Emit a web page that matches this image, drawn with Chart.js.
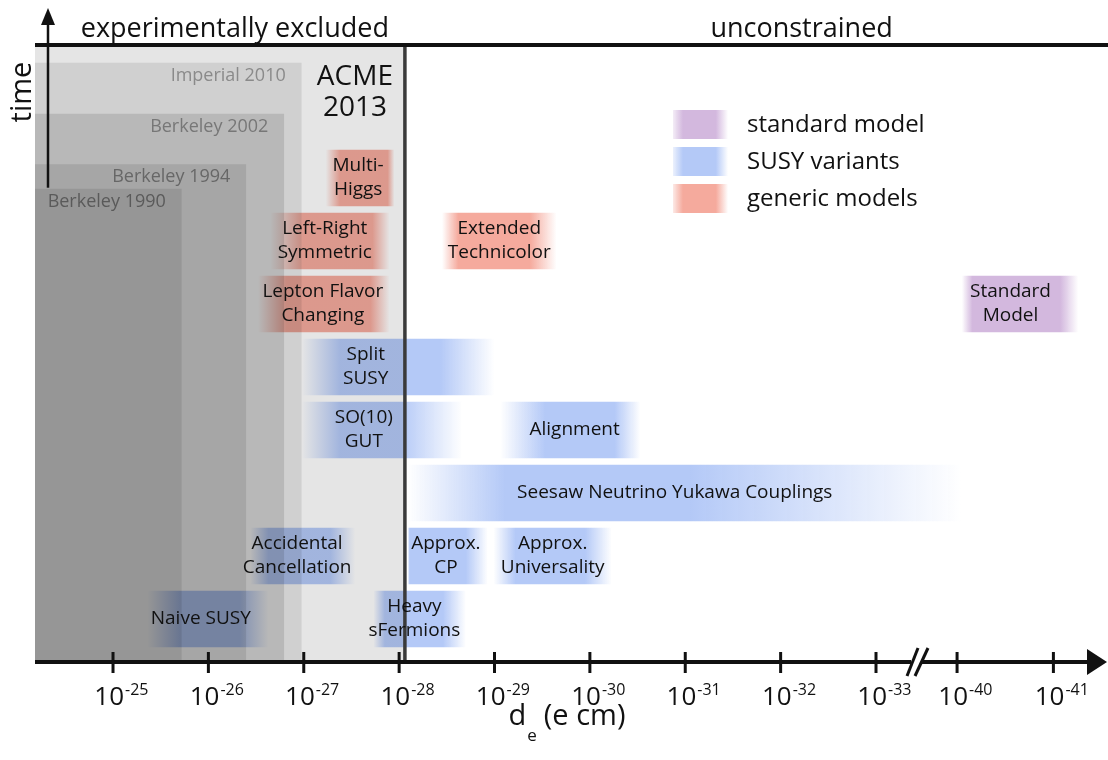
<!DOCTYPE html>
<html>
<head>
<meta charset="utf-8">
<script src="https://cdn.jsdelivr.net/npm/chart.js@4.4.0/dist/chart.umd.min.js"></script>
<style>
  html, body { margin: 0; padding: 0; background: #fff; }
  #wrap { width: 1108px; height: 760px; position: relative; }
</style>
</head>
<body>
<div id="wrap"><canvas id="chart"></canvas></div>
<script>
"use strict";

// ── Data ──────────────────────────────────────────────────────────────────────
// x = -log10(d_e / e cm), y = "time" rows (one row per model band)
const tickPos   = [25, 26, 27, 28, 29, 30, 31, 32, 33, 33.85, 34.86];
const tickExp   = ["-25", "-26", "-27", "-28", "-29", "-30", "-31", "-32", "-33", "-40", "-41"];
const axisBreak = 33.43;

const expNames  = ["Berkeley 1990", "Berkeley 1994", "Berkeley 2002", "Imperial 2010", "ACME\n2013"];
const expLimits = [1.9e-26, 4.0e-27, 1.6e-27, 1.05e-27, 8.7e-29];
const expTops   = [7.83, 8.22, 9.02, 9.83, 10.11];

const bandLabels = [
  "Multi-\nHiggs", "Left-Right\nSymmetric", "Lepton Flavor\nChanging", "Extended\nTechnicolor",
  "Standard\nModel",
  "Split\nSUSY", "SO(10)\nGUT", "Alignment", "Seesaw Neutrino Yukawa Couplings",
  "Accidental\nCancellation", "Approx.\nCP", "Approx.\nUniversality", "Naive SUSY", "Heavy\nsFermions",
];
const bandGroup = [
  "generic", "generic", "generic", "generic",
  "sm",
  "susy", "susy", "susy", "susy", "susy", "susy", "susy", "susy", "susy",
];
const bandRow  = [8, 7, 6, 7, 6, 5, 4, 4, 3, 2, 2, 2, 1, 1];
const bandFrom = [27.23, 26.65, 26.52, 28.45, 33.90, 26.98, 26.98, 29.06, 28.09, 26.44, 28.09, 28.99, 25.36, 27.73];
const bandFull = [27.38, 26.99, 26.82, 28.62, 34.01, 27.38, 27.38, 29.53, 29.11, 26.63, 28.11, 29.22, 25.70, 27.85];
const bandFade = [27.88, 27.72, 27.70, 29.37, 34.93, 28.43, 28.01, 30.26, 31.05, 27.28, 28.70, 29.95, 26.33, 28.46];
const bandTo   = [27.95, 27.90, 27.90, 29.65, 35.12, 29.00, 28.66, 30.53, 33.90, 27.54, 28.93, 30.23, 26.63, 28.70];
const bandText = [27.57, 27.22, 27.20, 29.05, 34.41, 27.65, 27.63, 29.84, 30.89, 26.93, 28.49, 29.61, 25.92, 28.16];

const groupOrder = ["sm", "susy", "generic"];
const groupNames = ["standard model", "SUSY variants", "generic models"];

// ── Styles ────────────────────────────────────────────────────────────────────
const FONT      = "'Open Sans', 'DejaVu Sans', sans-serif";
const INK       = "#111";
const expFill   = ["#969696", "#a6a6a6", "#b8b8b8", "#d0d0d0", "#e5e5e5"];
const expInk    = ["#5a5a5a", "#676767", "#777777", "#8a8a8a", "#111"];
const groupRGB  = { sm: [211, 184, 222], susy: [180, 201, 247], generic: [245, 170, 157] };

const X_MIN = 24.182, X_MAX = 35.4325;
const Y_MIN = 0.3175, Y_MAX = 10.111;

const rgba = (c, a) => `rgba(${c[0]},${c[1]},${c[2]},${a})`;

// ── Helpers ───────────────────────────────────────────────────────────────────
function bandFill(ctx, g) {
  const c = groupRGB[g];
  if (ctx.type !== "data" || !ctx.chart.chartArea) return rgba(c, 1);
  const i  = ctx.raw.band;
  const xs = ctx.chart.scales.x;
  const x0 = xs.getPixelForValue(bandFrom[i]);
  const x1 = xs.getPixelForValue(bandTo[i]);
  const span = bandTo[i] - bandFrom[i];
  const grad = ctx.chart.ctx.createLinearGradient(x0, 0, x1, 0);
  grad.addColorStop(0, rgba(c, 0));
  grad.addColorStop((bandFull[i] - bandFrom[i]) / span, rgba(c, 1));
  grad.addColorStop((bandFade[i] - bandFrom[i]) / span, rgba(c, 1));
  grad.addColorStop(1, rgba(c, 0));
  return grad;
}

function put(ctx, str, x, y, size, color, align = "center", base = "middle") {
  ctx.font = `${size}px ${FONT}`;
  ctx.fillStyle = color;
  ctx.textAlign = align;
  ctx.textBaseline = base;
  ctx.fillText(str, x, y);
}

function line(ctx, x0, y0, x1, y1, w) {
  ctx.beginPath();
  ctx.lineWidth = w;
  ctx.moveTo(x0, y0);
  ctx.lineTo(x1, y1);
  ctx.stroke();
}

// ── Datasets ──────────────────────────────────────────────────────────────────
const acmeX = -Math.log10(expLimits[expLimits.length - 1]);

const acmeLine = {
  type: "line",
  label: "ACME limit",
  data: [{ x: acmeX, y: Y_MIN }, { x: acmeX, y: Y_MAX }],
  borderColor: "#3a3a3a",
  borderWidth: 3.5,
  pointRadius: 0,
  fill: false,
};

const bandSets = groupOrder.map((g, gi) => ({
  type: "bar",
  label: groupNames[gi],
  indexAxis: "y",
  grouped: false,
  data: bandLabels.map((_, i) => i).filter(i => bandGroup[i] === g)
    .map(i => ({ x: [bandFrom[i], bandTo[i]], y: bandRow[i], band: i })),
  backgroundColor: ctx => bandFill(ctx, g),
  borderWidth: 0,
  borderSkipped: false,
  barPercentage: 0.9,
  categoryPercentage: 1,
}));

const expSets = expNames.map((name, i) => ({
  type: "line",
  label: name,
  data: [{ x: X_MIN, y: expTops[i] }, { x: -Math.log10(expLimits[i]), y: expTops[i] }],
  fill: "start",
  backgroundColor: expFill[i],
  borderColor: "rgba(0,0,0,0)",
  borderWidth: 0,
  pointRadius: 0,
}));

// ── Plugins ───────────────────────────────────────────────────────────────────
const multiplyBands = {
  id: "multiplyBands",
  beforeDatasetDraw(chart, args) {
    if (args.meta.type === "bar") { chart.ctx.save(); chart.ctx.globalCompositeOperation = "multiply"; }
  },
  afterDatasetDraw(chart, args) {
    if (args.meta.type === "bar") chart.ctx.restore();
  },
};

const decorations = {
  id: "decorations",
  afterDraw(chart) {
    const { ctx, chartArea: area } = chart;
    const xs = chart.scales.x, ys = chart.scales.y;
    ctx.save();
    ctx.strokeStyle = INK;
    ctx.fillStyle = INK;
    ctx.lineCap = "butt";

    // experiment labels
    expNames.forEach((name, i) => {
      const px = xs.getPixelForValue(-Math.log10(expLimits[i]));
      const py = ys.getPixelForValue(expTops[i]);
      if (name.includes("\n")) {
        name.split("\n").forEach((s, k) => put(ctx, s, px - 50, py + 32 + k * 31, 28, expInk[i]));
      } else {
        put(ctx, name, px - 16, py + 13, 18, expInk[i], "right");
      }
    });

    // band labels
    bandLabels.forEach((lab, i) => {
      const lines = lab.split("\n");
      const cx = xs.getPixelForValue(bandText[i]);
      const cy = ys.getPixelForValue(bandRow[i]);
      lines.forEach((s, k) => put(ctx, s, cx, cy + (k - (lines.length - 1) / 2) * 24, 19, INK));
    });

    // top boundary + headers
    const acmePx = xs.getPixelForValue(acmeX);
    line(ctx, area.left, area.top, area.right, area.top, 4);
    put(ctx, "experimentally excluded", acmePx - 16, 37, 27, INK, "right", "alphabetic");
    put(ctx, "unconstrained", xs.getPixelForValue(32.22), 37, 27, INK, "center", "alphabetic");

    // time arrow
    const tx = area.left + 13;
    line(ctx, tx, ys.getPixelForValue(expTops[0]) - 1, tx, 22, 2.5);
    ctx.beginPath();
    ctx.moveTo(tx, 8); ctx.lineTo(tx - 7, 25); ctx.lineTo(tx + 7, 25); ctx.closePath(); ctx.fill();
    ctx.save();
    ctx.translate(31, 92);
    ctx.rotate(-Math.PI / 2);
    put(ctx, "time", 0, 0, 29, INK, "center", "alphabetic");
    ctx.restore();

    // x axis
    const ay = area.bottom;
    line(ctx, area.left, ay, area.right - 18, ay, 4);
    ctx.beginPath();
    ctx.moveTo(area.right - 1, ay); ctx.lineTo(area.right - 21, ay - 13); ctx.lineTo(area.right - 21, ay + 13);
    ctx.closePath(); ctx.fill();
    tickPos.forEach((v, i) => {
      const px = xs.getPixelForValue(v);
      line(ctx, px, ay - 10, px, ay + 11, 3);
      put(ctx, "10", px + 11, ay + 43, 26, INK, "right", "alphabetic");
      put(ctx, tickExp[i], px + 12, ay + 33, 16, INK, "left", "alphabetic");
    });
    const bx = xs.getPixelForValue(axisBreak);
    ctx.fillStyle = "#fff";
    ctx.fillRect(bx - 6, ay - 3, 10, 6);
    line(ctx, bx - 10, ay + 14, bx + 1, ay - 14, 3);
    line(ctx, bx - 2, ay + 14, bx + 11, ay - 14, 3);

    // axis title d_e (e cm)
    ctx.font = `29px ${FONT}`;
    const wD = ctx.measureText("d").width, wR = ctx.measureText("(e cm)").width;
    ctx.font = `17px ${FONT}`;
    const wE = ctx.measureText("e").width;
    const tx0 = 567 - (wD + wE + 8 + wR) / 2;
    put(ctx, "d", tx0, ay + 63, 29, INK, "left", "alphabetic");
    put(ctx, "e", tx0 + wD + 1, ay + 79, 17, INK, "left", "alphabetic");
    put(ctx, "(e cm)", tx0 + wD + wE + 8, ay + 63, 29, INK, "left", "alphabetic");

    // legend
    groupOrder.forEach((g, k) => {
      const c = groupRGB[g];
      const y0 = 110 + k * 37;
      const grad = ctx.createLinearGradient(673, 0, 728, 0);
      grad.addColorStop(0, rgba(c, 0.25));
      grad.addColorStop(0.18, rgba(c, 1));
      grad.addColorStop(0.78, rgba(c, 1));
      grad.addColorStop(1, rgba(c, 0));
      ctx.fillStyle = grad;
      ctx.fillRect(673, y0, 55, 29);
      put(ctx, groupNames[k], 747, y0 + 15, 24, INK, "left");
    });

    ctx.restore();
  },
};

// ── Chart ─────────────────────────────────────────────────────────────────────
new Chart(document.getElementById("chart"), {
  type: "bar",
  data: { datasets: [acmeLine, ...bandSets, ...expSets] },
  options: {
    responsive: true,
    maintainAspectRatio: false,
    animation: false,
    layout: { padding: { left: 35, right: 0, top: 45, bottom: 98 } },
    plugins: { legend: { display: false }, tooltip: { enabled: false } },
    scales: {
      x: { type: "linear", min: X_MIN, max: X_MAX, offset: false, display: false },
      y: { type: "linear", min: Y_MIN, max: Y_MAX, offset: false, display: false, ticks: { stepSize: 100 } },
    },
  },
  plugins: [multiplyBands, decorations],
});
</script>
</body>
</html>
